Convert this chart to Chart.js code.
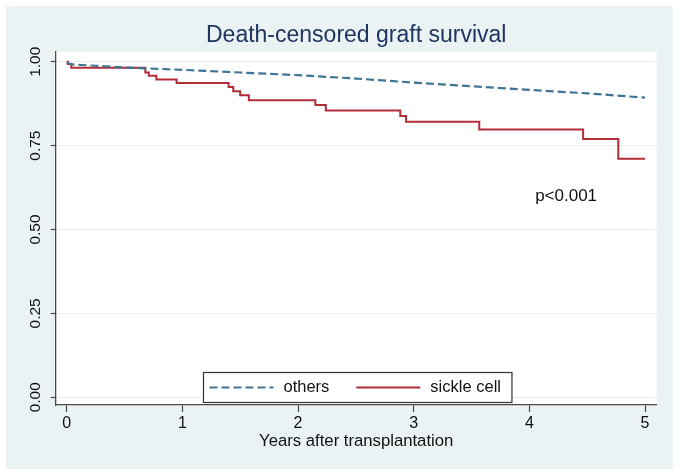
<!DOCTYPE html>
<html>
<head>
<meta charset="utf-8">
<script src="https://cdn.jsdelivr.net/npm/chart.js@4.4.1/dist/chart.umd.min.js"></script>
<style>
  html, body { margin: 0; padding: 0; background: #ffffff; }
  #wrap { width: 680px; height: 476px; }
</style>
</head>
<body>
<div id="wrap"><canvas id="c" width="680" height="476"></canvas></div>
<script>
// ---- Data ----
const chartTitle = 'Death-censored graft survival';
const xAxisTitle = 'Years after transplantation';

const xTickValues = [0, 1, 2, 3, 4, 5];
const xTickLabels = ['0', '1', '2', '3', '4', '5'];
const yTickValues = [0, 0.25, 0.5, 0.75, 1];
const yTickLabels = ['0.00', '0.25', '0.50', '0.75', '1.00'];

const othersLabel = 'others';
const othersTimes = [0, 0.05, 0.5, 1, 1.5, 2, 2.5, 3, 3.5, 4, 4.5, 5];
const othersSurv  = [0.997, 0.992, 0.983, 0.976, 0.968, 0.960, 0.950, 0.938, 0.927, 0.916, 0.906, 0.893];

const sickleLabel = 'sickle cell';
const sickleTimes = [0, 0.01, 0.04, 0.68, 0.71, 0.775, 0.95, 1.40, 1.44, 1.50, 1.575, 2.15, 2.24, 2.884, 2.934, 3.567, 4.465, 4.769, 5.0];
const sickleSurv  = [1.0, 0.993, 0.982, 0.968, 0.958, 0.947, 0.937, 0.925, 0.912, 0.900, 0.885, 0.871, 0.855, 0.838, 0.821, 0.798, 0.770, 0.711, 0.711];

const pValueText = 'p<0.001';
const pValueAt = { x: 4.05, y: 0.60 };

// ---- Styling ----
const FONT = '"Liberation Sans", Arial, Helvetica, sans-serif';
const BLUE = '#3f7594';
const RED = '#b22d38';
const OUTER_BG = '#eaf2f3';
const AXIS = '#4a4a4a';

function toPoints(xs, ys) { return xs.map((x, i) => ({ x: x, y: ys[i] })); }

const bgPlugin = {
  id: 'bgPlugin',
  beforeDraw(chart) {
    const ctx = chart.ctx, a = chart.chartArea;
    ctx.save();
    ctx.fillStyle = '#ffffff';
    ctx.fillRect(0, 0, chart.width, chart.height);
    ctx.fillStyle = OUTER_BG;
    ctx.fillRect(6, 6, 667, 463);
    ctx.fillStyle = '#ffffff';
    ctx.fillRect(a.left, a.top, a.right - a.left, a.bottom - a.top);
    ctx.restore();
  }
};

const annotPlugin = {
  id: 'annotPlugin',
  afterDraw(chart) {
    const ctx = chart.ctx, a = chart.chartArea;
    const xs = chart.scales.x, ys = chart.scales.y;
    ctx.save();
    // p-value text
    ctx.font = '17px ' + FONT;
    ctx.fillStyle = '#111111';
    ctx.textAlign = 'left';
    ctx.textBaseline = 'middle';
    ctx.fillText(pValueText, xs.getPixelForValue(pValueAt.x), ys.getPixelForValue(pValueAt.y));

    // legend box
    const items = chart.data.datasets.map(d => ({ label: d.label, color: d.borderColor, dash: d.borderDash || [] }));
    const padL = 6, sample = 64, gapT = 10, gapItem = 27, padR = 11;
    ctx.font = '16.5px ' + FONT;
    let w = padL;
    items.forEach((it, i) => {
      it.tw = ctx.measureText(it.label).width;
      w += sample + gapT + it.tw + (i < items.length - 1 ? gapItem : 0);
    });
    w += padR;
    const h = 30;
    const cx = (a.left + a.right) / 2 + 0.8;
    const left = Math.round(cx - w / 2) + 0.5;
    const top = Math.round(a.bottom - 3 - h) + 0.5;
    ctx.fillStyle = '#ffffff';
    ctx.fillRect(left, top, w, h);
    ctx.strokeStyle = '#333333';
    ctx.lineWidth = 1.2;
    ctx.strokeRect(left, top, w, h);
    let x = left + padL;
    const midY = top + h / 2;
    items.forEach((it, i) => {
      ctx.beginPath();
      ctx.setLineDash(it.dash);
      ctx.strokeStyle = it.color;
      ctx.lineWidth = 2.2;
      ctx.moveTo(x, midY);
      ctx.lineTo(x + sample, midY);
      ctx.stroke();
      ctx.setLineDash([]);
      x += sample + gapT;
      ctx.fillStyle = '#111111';
      ctx.textAlign = 'left';
      ctx.textBaseline = 'middle';
      ctx.fillText(it.label, x, midY);
      x += it.tw + gapItem;
    });
    ctx.restore();
  }
};

new Chart(document.getElementById('c'), {
  type: 'line',
  data: {
    datasets: [
      {
        label: othersLabel,
        data: toPoints(othersTimes, othersSurv),
        borderColor: BLUE,
        borderWidth: 2.2,
        borderDash: [8, 4],
        pointRadius: 0,
        tension: 0,
        fill: false
      },
      {
        label: sickleLabel,
        data: toPoints(sickleTimes, sickleSurv),
        borderColor: RED,
        borderWidth: 2,
        stepped: 'before',
        pointRadius: 0,
        fill: false
      }
    ]
  },
  options: {
    responsive: false,
    devicePixelRatio: 1,
    animation: false,
    layout: { padding: { left: 0, right: 23.3, top: 0, bottom: 0 } },
    plugins: {
      legend: { display: false },
      tooltip: { enabled: false },
      title: {
        display: true,
        text: chartTitle,
        fullSize: false,
        color: '#1f3560',
        font: { family: FONT, size: 23, weight: 'normal', lineHeight: 1.2 },
        padding: { top: 22.2, bottom: 1.9 }
      }
    },
    scales: {
      x: {
        type: 'linear',
        min: -0.095,
        max: 5.101,
        afterFit(s) { s.height = 71; },
        afterBuildTicks(s) { s.ticks = xTickValues.map(v => ({ value: v })); },
        ticks: {
          callback: (v) => xTickLabels[xTickValues.indexOf(v)],
          color: '#111111',
          font: { family: FONT, size: 16 },
          padding: 2,
          maxRotation: 0,
          autoSkip: false
        },
        grid: { drawOnChartArea: false, drawTicks: true, tickLength: 7, tickColor: AXIS, tickWidth: 1.2 },
        border: { display: true, color: AXIS, width: 1.3 },
        title: {
          display: true,
          text: xAxisTitle,
          color: '#111111',
          font: { family: FONT, size: 16.7 },
          padding: { top: 0, bottom: 25 }
        }
      },
      y: {
        type: 'linear',
        min: -0.023,
        max: 1.030,
        afterFit(s) { s.width = 55.7; },
        afterBuildTicks(s) { s.ticks = yTickValues.map(v => ({ value: v })); },
        ticks: {
          callback: (v) => yTickLabels[yTickValues.indexOf(v)],
          color: '#111111',
          font: { family: FONT, size: 15.5 },
          minRotation: 90,
          maxRotation: 90,
          crossAlign: 'center',
          padding: 0,
          autoSkip: false
        },
        grid: { color: '#e6eef0', lineWidth: 1, drawTicks: true, tickLength: 5, tickColor: AXIS, tickWidth: 1.2 },
        border: { display: true, color: AXIS, width: 1.3 }
      }
    }
  },
  plugins: [bgPlugin, annotPlugin]
});
</script>
</body>
</html>
